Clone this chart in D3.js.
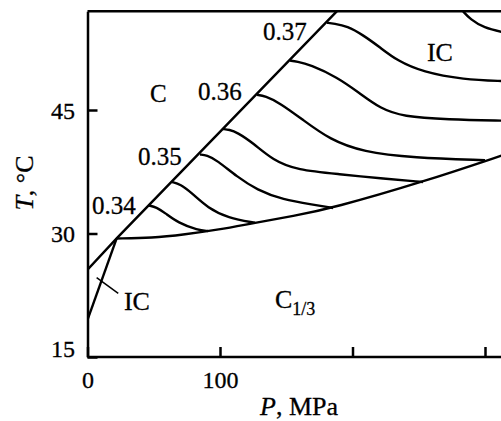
<!doctype html>
<html lang="en">
<head>
<meta charset="UTF-8">
<title>Phase diagram, T vs P</title>
<script src="https://d3js.org/d3.v7.min.js"></script>
<style>
body { margin: 0; background: #fff; }
svg { display: block; font-family: "Liberation Serif", "Times New Roman", serif; }
.axis path, .axis line { stroke: #000; stroke-width: 2.5; }
.axis text { font-family: "Liberation Serif", serif; font-size: 24px; fill: #000; stroke: #000; stroke-width: 0.3; }
path.curve { fill: none; stroke: #000; stroke-width: 2.4; }
.label { font-size: 25px; fill: #000; stroke: #000; stroke-width: 0.3; }
</style>
</head>
<body>
<div id="plot"></div>
<script>

var width = 501;
var height = 421;

// axis ticks
var pressureTicks = [0, 100, 200, 300];
var pressureLabels = [0, 100];
var tempTicks = [15, 30, 45];

// phase boundaries, [P (MPa), T (°C)]
var lineC = [[0, 25.6], [22, 29.4], [188.3, 57]];
var lineIC = [[0, 19.5], [22, 29.4]];
var lineC13 = [[22, 29.4], [48.7, 29.45], [73.6, 29.9], [98.5, 30.45], [126.4, 31.3],
	[155, 32.1], [185.3, 33.1], [253.2, 36.26], [315, 39.6]];

// lines of constant modulation
var mod1 = [[46.4, 33.4], [52, 33.2], [58.5, 32.5], [68.3, 31.3], [83.4, 30.4], [90.9, 30.3]];
var mod2 = [[63.8, 36.25], [70, 36.0], [78.9, 34.9], [90.9, 33.1], [106.0, 31.9], [126.4, 31.3]];
var mod3 = [[84.9, 39.6], [90, 39.5], [97.7, 38.9], [112.8, 36.9], [127.9, 35.3], [147.5, 34.1],
	[170.2, 33.5], [185.3, 33.1]];
var mod4 = [[102.3, 42.7], [107, 42.6], [112.8, 42.3], [124.9, 41.0], [140.0, 38.9], [158.1, 37.7],
	[190.6, 37.2], [220.8, 36.7], [253.2, 36.26]];
var mod5 = [[127.9, 46.85], [134, 46.7], [145.3, 45.85], [162.6, 43.8], [183.0, 41.4],
	[207.9, 39.9], [245.7, 39.2], [300.0, 38.9]];
var mod6 = [[152.8, 51.0], [158, 50.9], [167.9, 50.5], [188.3, 49.0], [205.7, 47.0], [220.8, 45.2],
	[238.1, 44.2], [271.3, 43.85], [315, 43.7]];
var mod7 = [[180.8, 55.6], [186, 55.5], [196, 55.2], [208, 54.1], [220.8, 52.6], [233.6, 51.0],
	[253.2, 49.6], [283.4, 48.7], [315, 48.5]];
var mod8 = [[283.4, 57], [289, 56], [298.9, 55], [315, 54.4]];

var modLabels = ["0.34", "0.35", "0.36", "0.37"];
var modLabelPos = [[3.4, 32.37], [38.1, 38.32], [83.4, 46.2], [132.5, 53.5]];

var x = d3.scaleLinear().domain([0, 320]).range([87.5, 87.5 + 320 * 1.325]);
var y = d3.scaleLinear().domain([15, 57]).range([357, 11.2]);

var svg = d3.select("#plot").append("svg")
	.attr("width", width)
	.attr("height", height);

svg.append("clipPath").attr("id", "clip")
	.append("rect")
	.attr("x", x(0)).attr("y", y(57) - 2)
	.attr("width", width - x(0)).attr("height", y(15) - y(57) + 4);

var line = d3.line()
	.x(function (d) { return x(d[0]); })
	.y(function (d) { return y(d[1]); });

var smooth = d3.line()
	.x(function (d) { return x(d[0]); })
	.y(function (d) { return y(d[1]); })
	.curve(d3.curveBasis);

var g = svg.append("g").attr("clip-path", "url(#clip)");

g.append("path").attr("class", "curve").attr("d", line(lineC));
g.append("path").attr("class", "curve").attr("d", line(lineIC));
g.append("path").attr("class", "curve").attr("d", smooth(lineC13));

[mod1, mod2, mod3, mod4, mod5, mod6, mod7, mod8].forEach(function (m) {
	g.append("path").attr("class", "curve").attr("d", smooth(m));
});

// axes
var xAxis = d3.axisBottom(x)
	.tickValues(pressureTicks)
	.tickSizeInner(-10)
	.tickSizeOuter(0)
	.tickFormat(function (d) { return pressureLabels.indexOf(d) >= 0 ? d : ""; });

svg.append("g")
	.attr("class", "axis")
	.attr("transform", "translate(0," + y(15) + ")")
	.call(xAxis)
	.call(function (a) {
		a.select(".domain").attr("d", "M" + x(0) + ",0H" + width);
		a.selectAll("text").attr("y", 31).attr("dy", 0);
	});

var yAxis = d3.axisLeft(y)
	.tickValues(tempTicks)
	.tickSizeInner(-10)
	.tickSizeOuter(0);

svg.append("g")
	.attr("class", "axis")
	.attr("transform", "translate(" + x(0) + ",0)")
	.call(yAxis)
	.call(function (a) {
		a.selectAll("text").attr("x", -12.5)
			.attr("dy", function (d) { return d === 15 ? "-0.02em" : "0.34em"; });
	});

// top frame line
svg.append("line")
	.attr("x1", x(0)).attr("x2", width)
	.attr("y1", y(57)).attr("y2", y(57))
	.style("stroke", "#000").style("stroke-width", 2.5);

// modulation labels
svg.selectAll(".mod").data(modLabels).enter().append("text")
	.attr("class", "label")
	.attr("x", function (d, i) { return x(modLabelPos[i][0]); })
	.attr("y", function (d, i) { return y(modLabelPos[i][1]); })
	.text(function (d) { return d; });

// phase labels
svg.append("text").attr("class", "label")
	.attr("x", x(47.2)).attr("y", y(45.97)).text("C");
svg.append("text").attr("class", "label").style("font-size", "26px")
	.attr("x", x(256.2)).attr("y", y(50.95)).text("IC");
svg.append("text").attr("class", "label").style("font-size", "26px")
	.attr("x", x(27.5)).attr("y", y(20.7)).text("IC");

var c13 = svg.append("text").attr("class", "label").style("font-size", "26px")
	.attr("x", x(141.5)).attr("y", y(20.95));
c13.append("tspan").text("C");
c13.append("tspan").attr("dy", 7).style("font-size", "18px").text("1/3");

svg.append("line")
	.attr("x1", x(6.9)).attr("y1", y(24.63))
	.attr("x2", x(23.2)).attr("y2", y(22.74))
	.style("stroke", "#000").style("stroke-width", 1.5);

// axis titles
var xt = svg.append("text").attr("class", "label").style("font-size", "26px")
	.attr("x", 260).attr("y", 415);
xt.append("tspan").style("font-style", "italic").text("P");
xt.append("tspan").text(", MPa");

var yt = svg.append("text").attr("class", "label").style("font-size", "26px")
	.attr("text-anchor", "middle")
	.attr("transform", "translate(33,183) rotate(-90)");
yt.append("tspan").style("font-style", "italic").text("T");
yt.append("tspan").text(", °C");

</script>
</body>
</html>
